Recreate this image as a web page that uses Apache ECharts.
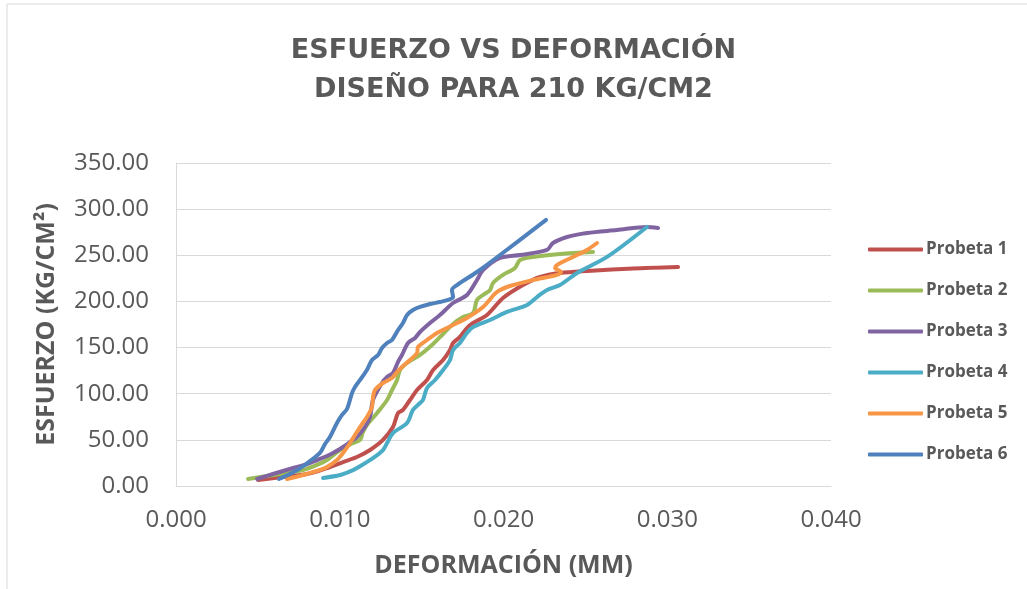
<!DOCTYPE html>
<html>
<head>
<meta charset="utf-8">
<title>Esfuerzo vs Deformación</title>
<script src="https://cdn.jsdelivr.net/npm/echarts@6/dist/echarts.min.js"></script>
<style>
  html, body { margin: 0; padding: 0; background: #fff; }
  #chart { width: 1027px; height: 589px; }
</style>
</head>
<body>
<div id="chart"></div>
<script>
  // deformación (mm) / esfuerzo (kg/cm2)
  var p1X = [0.00501, 0.00653, 0.00800, 0.00922, 0.01020, 0.01105, 0.01185, 0.01264, 0.01325, 0.01356, 0.01386, 0.01429, 0.01472, 0.01533, 0.01570, 0.01631, 0.01673, 0.01692, 0.01734, 0.01777, 0.01814, 0.01899, 0.01997, 0.02119, 0.02223, 0.02345, 0.02510, 0.02791, 0.03066];
  var p1Y = [6.5, 9.8, 13.0, 19.5, 26.0, 31.4, 39.0, 49.9, 63.9, 79.1, 82.4, 93.2, 104.0, 114.9, 125.7, 136.5, 147.4, 155.0, 161.5, 171.2, 176.6, 185.3, 203.7, 217.8, 226.5, 230.8, 233.0, 235.7, 237.3];

  var p2X = [0.00440, 0.00556, 0.00678, 0.00776, 0.00861, 0.00922, 0.01002, 0.01081, 0.01124, 0.01142, 0.01166, 0.01228, 0.01289, 0.01319, 0.01350, 0.01368, 0.01411, 0.01490, 0.01570, 0.01631, 0.01692, 0.01753, 0.01814, 0.01838, 0.01875, 0.01918, 0.01936, 0.01997, 0.02070, 0.02101, 0.02180, 0.02345, 0.02547];
  var p2Y = [7.6, 10.8, 14.1, 17.3, 22.8, 28.2, 39.0, 46.6, 49.9, 58.5, 66.1, 79.1, 93.2, 104.0, 114.9, 125.7, 133.3, 142.0, 153.9, 164.7, 175.6, 183.1, 187.5, 201.6, 207.0, 212.4, 220.0, 228.7, 236.3, 244.9, 248.2, 251.4, 253.6];

  var p3X = [0.00495, 0.00592, 0.00715, 0.00800, 0.00879, 0.00959, 0.01020, 0.01063, 0.01105, 0.01154, 0.01185, 0.01203, 0.01258, 0.01289, 0.01325, 0.01356, 0.01380, 0.01417, 0.01460, 0.01490, 0.01551, 0.01612, 0.01692, 0.01777, 0.01838, 0.01875, 0.01979, 0.02101, 0.02266, 0.02302, 0.02388, 0.02510, 0.02693, 0.02876, 0.02944];
  var p3Y = [7.6, 13.0, 19.5, 23.8, 29.3, 35.8, 42.3, 47.7, 53.1, 63.9, 74.8, 93.2, 111.6, 118.1, 122.5, 134.4, 142.0, 155.0, 160.4, 166.9, 176.6, 185.3, 198.3, 207.0, 223.2, 234.1, 247.1, 250.3, 255.8, 263.3, 269.8, 274.2, 277.4, 280.7, 279.6];

  var p4X = [0.00898, 0.01002, 0.01081, 0.01105, 0.01203, 0.01264, 0.01289, 0.01325, 0.01411, 0.01447, 0.01490, 0.01508, 0.01533, 0.01582, 0.01631, 0.01673, 0.01692, 0.01734, 0.01777, 0.01814, 0.01918, 0.02021, 0.02144, 0.02205, 0.02266, 0.02345, 0.02449, 0.02632, 0.02876];
  var p4Y = [8.7, 11.9, 17.3, 19.5, 30.3, 39.0, 46.6, 57.4, 68.3, 82.4, 89.9, 93.2, 106.2, 114.9, 125.7, 136.5, 147.4, 155.0, 165.8, 172.3, 179.9, 188.6, 196.1, 204.8, 212.4, 217.8, 230.8, 248.2, 280.7];

  var p5X = [0.00678, 0.00776, 0.00861, 0.00922, 0.00983, 0.01020, 0.01063, 0.01093, 0.01124, 0.01166, 0.01197, 0.01203, 0.01215, 0.01264, 0.01319, 0.01350, 0.01380, 0.01429, 0.01472, 0.01478, 0.01533, 0.01594, 0.01655, 0.01716, 0.01777, 0.01875, 0.01960, 0.02040, 0.02180, 0.02327, 0.02351, 0.02315, 0.02327, 0.02424, 0.02510, 0.02571];
  var p5Y = [7.6, 11.9, 16.3, 20.6, 28.2, 35.8, 46.6, 55.3, 63.9, 74.8, 85.6, 96.4, 104.0, 111.6, 117.0, 123.5, 129.0, 136.5, 144.1, 150.6, 158.2, 165.8, 171.2, 176.6, 182.1, 194.0, 210.2, 216.7, 223.2, 228.7, 231.9, 236.3, 239.5, 248.2, 255.8, 263.3];

  var p6X = [0.00629, 0.00708, 0.00794, 0.00879, 0.00910, 0.00940, 0.00983, 0.01014, 0.01044, 0.01075, 0.01093, 0.01124, 0.01166, 0.01197, 0.01234, 0.01258, 0.01289, 0.01319, 0.01356, 0.01386, 0.01411, 0.01447, 0.01490, 0.01551, 0.01612, 0.01661, 0.01692, 0.01685, 0.01716, 0.01838, 0.01979, 0.02260];
  var p6Y = [7.6, 14.0, 23.8, 35.8, 45.5, 53.1, 68.3, 77.0, 83.4, 100.8, 107.3, 114.9, 125.7, 136.5, 142.0, 149.5, 155.0, 158.2, 169.0, 176.6, 185.3, 190.7, 194.0, 197.2, 199.4, 201.6, 204.8, 212.4, 217.8, 231.9, 250.3, 288.3];

  var names = ['Probeta 1', 'Probeta 2', 'Probeta 3', 'Probeta 4', 'Probeta 5', 'Probeta 6'];
  var colors = ['#C0504D', '#9BBB59', '#8064A2', '#4BACC6', '#F79646', '#4F81BD'];
  var xs = [p1X, p2X, p3X, p4X, p5X, p6X];
  var ys = [p1Y, p2Y, p3Y, p4Y, p5Y, p6Y];

  function pairs(a, b) {
    var out = [];
    for (var i = 0; i < a.length; i++) {
      out.push([a[i], b[i]]);
    }
    return out;
  }

  var series = [];
  for (var k = 0; k < names.length; k++) {
    series.push({
      name: names[k],
      type: 'line',
      data: pairs(xs[k], ys[k]),
      smooth: 0.3,
      showSymbol: false,
      symbol: 'none',
      lineStyle: { width: 4, color: colors[k], cap: 'round', join: 'round' },
      itemStyle: { color: colors[k] },
      animation: false
    });
  }

  var grey = '#595959';
  var myChart = echarts.init(document.getElementById('chart'));
  var option = {
    backgroundColor: '#fff',
    color: colors,
    title: {
      text: 'ESFUERZO VS DEFORMACIÓN\nDISEÑO PARA 210 KG/CM2',
      left: 'center',
      top: 26,
      textStyle: {
        fontFamily: 'DejaVu Sans',
        fontWeight: 'bold',
        fontSize: 27,
        lineHeight: 39,
        color: grey
      }
    },
    legend: {
      orient: 'vertical',
      left: 863,
      top: 236,
      itemWidth: 55,
      itemHeight: 4,
      itemGap: 24,
      icon: 'roundRect',
      textStyle: {
        fontFamily: 'Open Sans',
        fontWeight: 'bold',
        fontSize: 17,
        color: grey,
        padding: [0, 0, 0, -2]
      },
      data: names
    },
    grid: {
      left: 176,
      top: 163,
      right: 196,
      bottom: 103
    },
    xAxis: {
      type: 'value',
      min: 0,
      max: 0.04,
      interval: 0.01,
      name: 'DEFORMACIÓN (MM)',
      nameLocation: 'middle',
      nameGap: 67,
      nameTextStyle: { fontFamily: 'Open Sans', fontWeight: 'bold', fontSize: 25, color: grey },
      axisLine: { show: true, lineStyle: { color: '#d9d9d9', width: 1 } },
      axisTick: { show: false },
      splitLine: { show: false },
      axisLabel: {
        margin: 22,
        fontFamily: 'Open Sans',
        fontSize: 24,
        color: grey,
        formatter: function (v) { return v.toFixed(3); }
      }
    },
    yAxis: {
      type: 'value',
      min: 0,
      max: 350,
      interval: 50,
      name: 'ESFUERZO (KG/CM²)',
      nameLocation: 'middle',
      nameRotate: 90,
      nameGap: 117,
      nameTextStyle: { fontFamily: 'Open Sans', fontWeight: 'bold', fontSize: 25, color: grey },
      axisLine: { show: true, lineStyle: { color: '#d9d9d9', width: 1 } },
      axisTick: { show: false },
      splitLine: { show: true, lineStyle: { color: '#d9d9d9', width: 1 } },
      axisLabel: {
        margin: 27,
        fontFamily: 'Open Sans',
        fontSize: 24,
        color: grey,
        formatter: function (v) { return v.toFixed(2); }
      }
    },
    graphic: [
      { type: 'line', shape: { x1: 7, y1: 4, x2: 1027, y2: 4 }, style: { stroke: '#d9d9d9', lineWidth: 1 } },
      { type: 'line', shape: { x1: 7, y1: 4, x2: 7, y2: 589 }, style: { stroke: '#d9d9d9', lineWidth: 1 } }
    ],
    series: series
  };
  myChart.setOption(option);
</script>
</body>
</html>
